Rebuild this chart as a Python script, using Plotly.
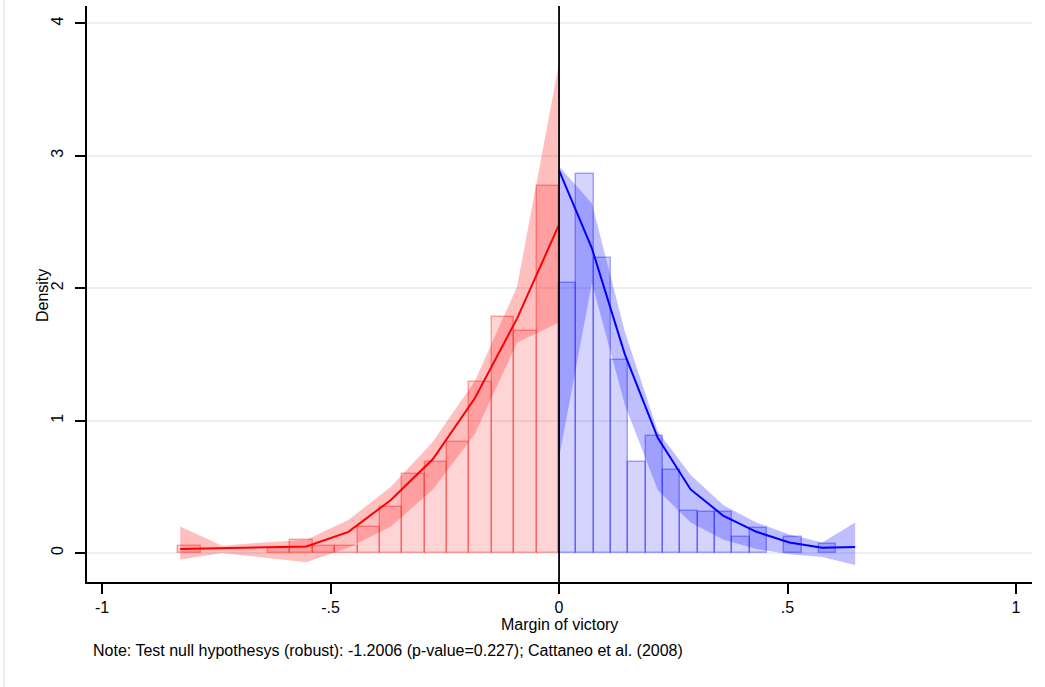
import plotly.graph_objects as go

# Histogram of the margin of victory, split at the cutoff
red_bin_start = -0.833
red_bin_width = 0.049
red_heights = [0.05, 0.0, 0.0, 0.0, 0.04, 0.10, 0.05, 0.05, 0.20, 0.35,
               0.60, 0.69, 0.84, 1.29, 1.78, 1.68, 2.77]

blue_bin_start = 0.0
blue_bin_width = 0.0379
blue_heights = [2.04, 2.86, 2.23, 1.46, 0.69, 0.88, 0.63, 0.32, 0.31, 0.31,
                0.12, 0.19, 0.0, 0.12, 0.0, 0.065]

# Local density fit with confidence bands, left of the cutoff
red_x = [-0.829, -0.737, -0.645, -0.553, -0.461, -0.368, -0.276, -0.184, -0.092, 0.0]
red_fit = [0.03, 0.035, 0.04, 0.05, 0.16, 0.40, 0.71, 1.17, 1.77, 2.48]
red_hi = [0.20, 0.055, 0.08, 0.10, 0.25, 0.50, 0.84, 1.30, 2.01, 3.70]
red_lo = [-0.05, 0.00, -0.035, -0.07, 0.04, 0.20, 0.48, 0.90, 1.59, 1.74]

# Right of the cutoff
blue_x = [0.0, 0.072, 0.144, 0.216, 0.288, 0.360, 0.432, 0.504, 0.576, 0.648]
blue_fit = [2.89, 2.30, 1.50, 0.87, 0.48, 0.28, 0.16, 0.08, 0.04, 0.045]
blue_hi = [2.92, 2.64, 1.67, 0.92, 0.59, 0.36, 0.23, 0.14, 0.08, 0.23]
blue_lo = [0.72, 2.04, 1.12, 0.475, 0.23, 0.10, 0.03, -0.01, -0.03, -0.09]

x_ticks = [-1, -0.5, 0, 0.5, 1]
x_tick_text = ["-1", "-.5", "0", ".5", "1"]
y_ticks = [0, 1, 2, 3, 4]

note = "Note: Test null hypothesys (robust): -1.2006 (p-value=0.227); Cattaneo et al. (2008)"

FONT = "Liberation Sans, Arial, sans-serif"


def bin_centers(start, width, n):
    return [start + width * (i + 0.5) for i in range(n)]


def nonzero(vals):
    return [v if v > 0 else None for v in vals]


fig = go.Figure()

fig.add_trace(go.Bar(
    x=bin_centers(red_bin_start, red_bin_width, len(red_heights)),
    y=nonzero(red_heights), width=red_bin_width,
    marker=dict(color="rgba(255,0,0,0.17)",
                line=dict(color="rgba(255,0,0,0.32)", width=1.5)),
    hoverinfo="skip", showlegend=False))

fig.add_trace(go.Bar(
    x=bin_centers(blue_bin_start, blue_bin_width, len(blue_heights)),
    y=nonzero(blue_heights), width=blue_bin_width,
    marker=dict(color="rgba(0,0,255,0.17)",
                line=dict(color="rgba(0,0,255,0.32)", width=1.5)),
    hoverinfo="skip", showlegend=False))

# Confidence bands as closed polygons
fig.add_trace(go.Scatter(
    x=red_x + red_x[::-1], y=red_hi + red_lo[::-1],
    fill="toself", fillcolor="rgba(255,0,0,0.25)", mode="lines",
    line=dict(width=0), hoverinfo="skip", showlegend=False))
fig.add_trace(go.Scatter(
    x=blue_x + blue_x[::-1], y=blue_hi + blue_lo[::-1],
    fill="toself", fillcolor="rgba(0,0,255,0.25)", mode="lines",
    line=dict(width=0), hoverinfo="skip", showlegend=False))

fig.add_trace(go.Scatter(x=red_x, y=red_fit, mode="lines",
                         line=dict(color="#ff0000", width=2),
                         hoverinfo="skip", showlegend=False))
fig.add_trace(go.Scatter(x=blue_x, y=blue_fit, mode="lines",
                         line=dict(color="#0000ff", width=2),
                         hoverinfo="skip", showlegend=False))

# Cutoff line
fig.add_shape(type="line", xref="x", yref="paper", x0=0, x1=0, y0=0, y1=1,
              line=dict(color="black", width=1.8), layer="above")

# Faint graph-region outline on the left
fig.add_shape(type="line", xref="paper", yref="paper", x0=-0.0878, x1=-0.0878,
              y0=-0.2, y1=1.02, line=dict(color="#e6eff1", width=2))

fig.update_layout(
    width=1045, height=687,
    margin=dict(l=87, r=13, t=6, b=105),
    paper_bgcolor="white", plot_bgcolor="white",
    barmode="overlay", bargap=0,
    font=dict(family=FONT, size=16, color="black"),
    xaxis=dict(range=[-1.033, 1.035], tickvals=x_ticks, ticktext=x_tick_text,
               showgrid=False, zeroline=False, showline=True,
               linecolor="black", linewidth=1.5, ticks="outside",
               ticklen=10, tickwidth=1.5, tickcolor="black",
               tickfont=dict(family=FONT, size=16)),
    yaxis=dict(range=[-0.219, 4.131], tickvals=y_ticks,
               showgrid=True, gridcolor="#e9f0f2", gridwidth=1.5,
               zeroline=False, showline=True, linecolor="black", linewidth=1.5,
               ticks="outside", ticklen=10, tickwidth=1.5, tickcolor="black",
               tickangle=-90, ticklabelstandoff=6,
               tickfont=dict(family=FONT, size=16)),
    annotations=[
        dict(text="Margin of victory", xref="paper", yref="paper",
             x=0.4995, y=-0.0732, xanchor="center", yanchor="middle",
             showarrow=False, font=dict(family=FONT, size=16)),
        dict(text="Density", xref="paper", yref="paper",
             x=-0.0476, y=0.4965, xanchor="center", yanchor="middle",
             textangle=-90, showarrow=False, font=dict(family=FONT, size=16)),
        dict(text=note, xref="paper", yref="paper",
             x=0.0042, y=-0.1185, xanchor="left", yanchor="middle",
             showarrow=False, font=dict(family=FONT, size=16)),
    ],
)

fig.write_html("out.html")
